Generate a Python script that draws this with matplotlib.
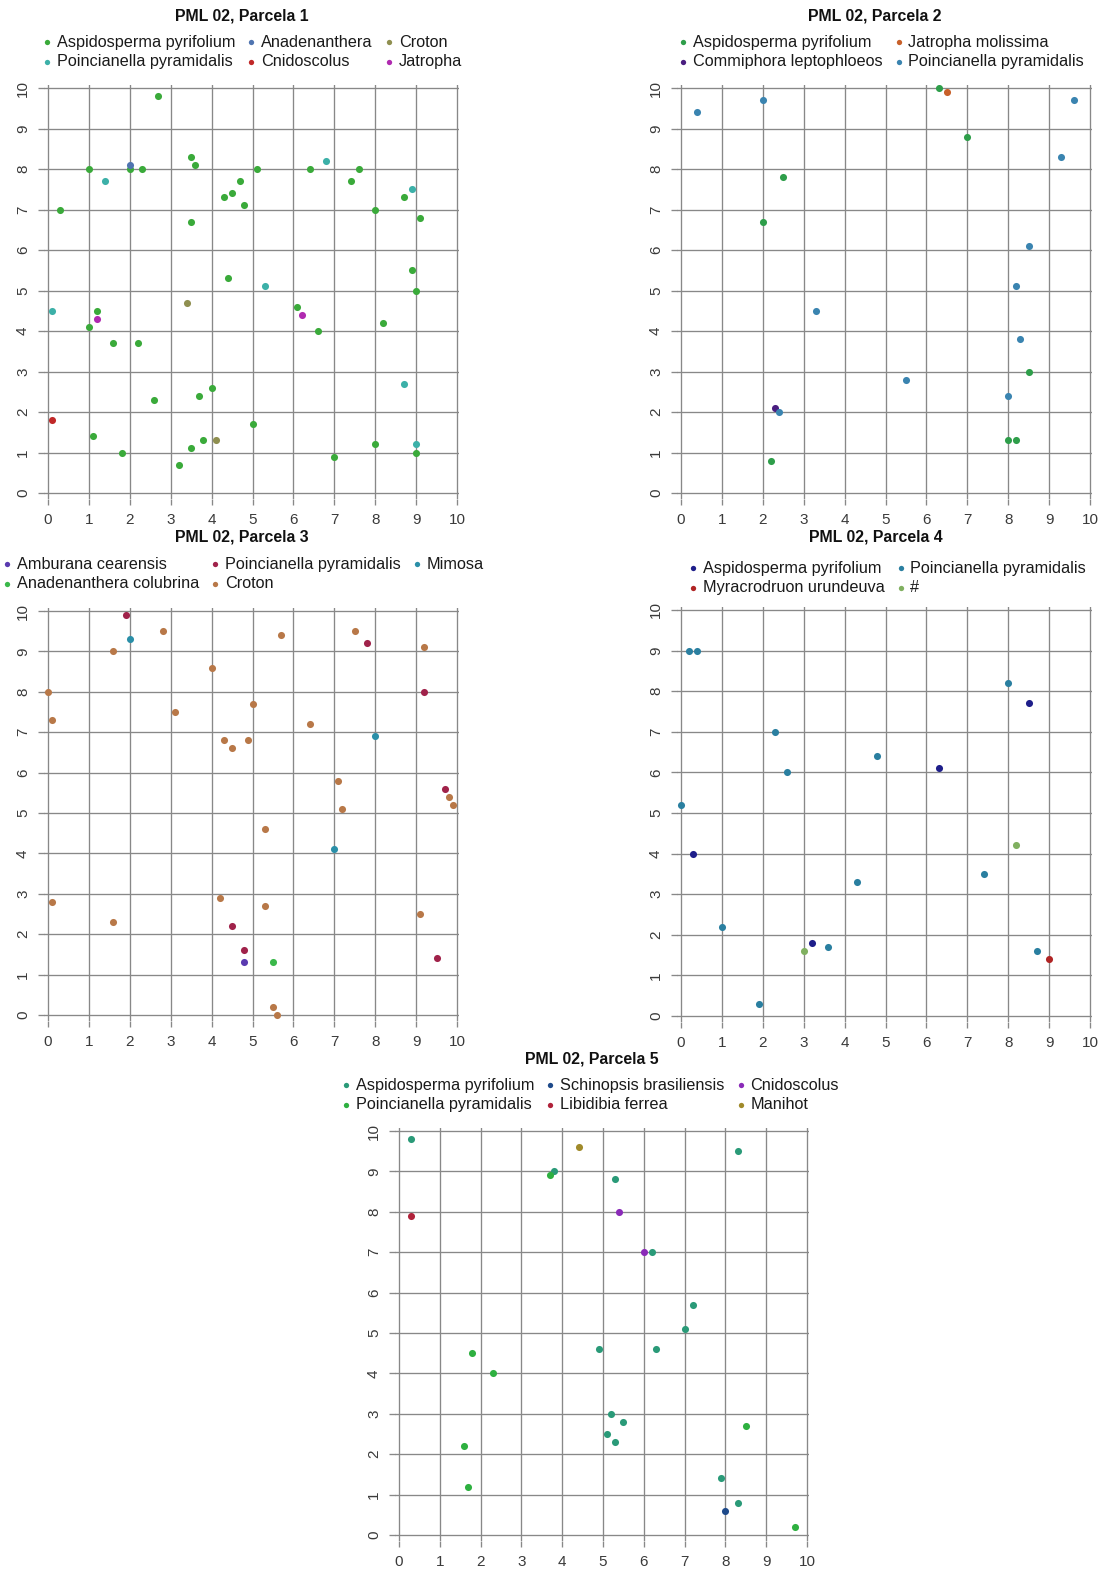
import matplotlib
matplotlib.use("Agg")
import matplotlib.pyplot as plt

plt.rcParams['font.family'] = ['Liberation Sans', 'DejaVu Sans']

W, H = 1099, 1573

# ---- Parcela 1 ----
p1_species = ["Aspidosperma pyrifolium", "Poincianella pyramidalis", "Anadenanthera",
              "Cnidoscolus", "Croton", "Jatropha"]
p1_colors = ["#3aaa3a", "#3cb0a8", "#4f74b0", "#c02828", "#8f8f50", "#b02ab0"]
p1_x = [
    [2.7, 1.0, 2.0, 2.3, 3.5, 3.6, 5.1, 6.4, 7.6, 7.4, 4.7, 4.5, 4.3, 4.8, 0.3, 8.0, 8.7, 9.1,
     3.5, 8.9, 9.0, 4.4, 6.1, 1.2, 1.0, 6.6, 8.2, 1.6, 2.2, 4.0, 3.7, 2.6, 5.0, 1.1, 3.8, 3.5,
     1.8, 3.2, 7.0, 8.0, 9.0],
    [1.4, 6.8, 8.9, 5.3, 0.1, 8.7, 9.0],
    [2.0],
    [0.1],
    [3.4, 4.1],
    [1.2, 6.2],
]
p1_y = [
    [9.8, 8.0, 8.0, 8.0, 8.3, 8.1, 8.0, 8.0, 8.0, 7.7, 7.7, 7.4, 7.3, 7.1, 7.0, 7.0, 7.3, 6.8,
     6.7, 5.5, 5.0, 5.3, 4.6, 4.5, 4.1, 4.0, 4.2, 3.7, 3.7, 2.6, 2.4, 2.3, 1.7, 1.4, 1.3, 1.1,
     1.0, 0.7, 0.9, 1.2, 1.0],
    [7.7, 8.2, 7.5, 5.1, 4.5, 2.7, 1.2],
    [8.1],
    [1.8],
    [4.7, 1.3],
    [4.3, 4.4],
]

# ---- Parcela 2 ----
p2_species = ["Aspidosperma pyrifolium", "Commiphora leptophloeos", "Jatropha molissima",
              "Poincianella pyramidalis"]
p2_colors = ["#2e9e4a", "#4a1e80", "#c8602a", "#3a84b0"]
p2_x = [
    [6.3, 7.0, 2.5, 2.0, 8.5, 8.0, 8.2, 2.2],
    [2.3],
    [6.5],
    [0.4, 2.0, 9.6, 9.3, 8.5, 8.2, 3.3, 8.3, 5.5, 8.0, 2.4],
]
p2_y = [
    [10.0, 8.8, 7.8, 6.7, 3.0, 1.3, 1.3, 0.8],
    [2.1],
    [9.9],
    [9.4, 9.7, 9.7, 8.3, 6.1, 5.1, 4.5, 3.8, 2.8, 2.4, 2.0],
]

# ---- Parcela 3 ----
p3_species = ["Amburana cearensis", "Anadenanthera colubrina", "Poincianella pyramidalis",
              "Croton", "Mimosa"]
p3_colors = ["#5a3ab0", "#3ab84a", "#a0224a", "#b87848", "#2a8fa8"]
p3_x = [
    [4.8],
    [5.5],
    [1.9, 7.8, 9.2, 9.7, 4.5, 4.8, 9.5],
    [2.8, 5.7, 7.5, 1.6, 9.2, 4.0, 0.0, 0.1, 3.1, 5.0, 6.4, 4.3, 4.5, 4.9, 7.1, 7.2, 9.8, 9.9,
     5.3, 0.1, 1.6, 4.2, 5.3, 9.1, 5.5, 5.6],
    [2.0, 8.0, 7.0],
]
p3_y = [
    [1.3],
    [1.3],
    [9.9, 9.2, 8.0, 5.6, 2.2, 1.6, 1.4],
    [9.5, 9.4, 9.5, 9.0, 9.1, 8.6, 8.0, 7.3, 7.5, 7.7, 7.2, 6.8, 6.6, 6.8, 5.8, 5.1, 5.4, 5.2,
     4.6, 2.8, 2.3, 2.9, 2.7, 2.5, 0.2, 0.0],
    [9.3, 6.9, 4.1],
]

# ---- Parcela 4 ----
p4_species = ["Aspidosperma pyrifolium", "Myracrodruon urundeuva", "Poincianella pyramidalis", "#"]
p4_colors = ["#1e1e8a", "#b02424", "#2a7fa0", "#80b060"]
p4_x = [
    [8.5, 6.3, 0.3, 3.2],
    [9.0],
    [0.2, 0.4, 8.0, 2.3, 4.8, 2.6, 0.0, 7.4, 4.3, 1.0, 3.6, 8.7, 1.9],
    [8.2, 3.0],
]
p4_y = [
    [7.7, 6.1, 4.0, 1.8],
    [1.4],
    [9.0, 9.0, 8.2, 7.0, 6.4, 6.0, 5.2, 3.5, 3.3, 2.2, 1.7, 1.6, 0.3],
    [4.2, 1.6],
]

# ---- Parcela 5 ----
p5_species = ["Aspidosperma pyrifolium", "Poincianella pyramidalis", "Schinopsis brasiliensis",
              "Libidibia ferrea", "Cnidoscolus", "Manihot"]
p5_colors = ["#2a9a78", "#2eb040", "#1e4a8a", "#b0223a", "#8a2ab8", "#a08a2a"]
p5_x = [
    [0.3, 3.8, 5.3, 8.3, 6.2, 7.2, 7.0, 4.9, 6.3, 5.2, 5.5, 5.1, 5.3, 7.9, 8.3],
    [3.7, 1.8, 2.3, 1.6, 1.7, 8.5, 9.7],
    [8.0],
    [0.3],
    [5.4, 6.0],
    [4.4],
]
p5_y = [
    [9.8, 9.0, 8.8, 9.5, 7.0, 5.7, 5.1, 4.6, 4.6, 3.0, 2.8, 2.5, 2.3, 1.4, 0.8],
    [8.9, 4.5, 4.0, 2.2, 1.2, 2.7, 0.2],
    [0.6],
    [7.9],
    [8.0, 7.0],
    [9.6],
]

ticks = list(range(0, 11))


def make_panel(fig, px0, px10, py10, py0, title, title_xy, leg_xy, ncol,
               species, colors, xs, ys):
    # axes placed from the pixel positions of the 0 and 10 gridlines
    ux = (px10 - px0) / 10.0
    uy = (py0 - py10) / 10.0
    xlo, xhi = -0.1, 10.05
    ylo, yhi = -0.15, 10.08
    left = (px0 + xlo * ux) / W
    width = (xhi - xlo) * ux / W
    bottom = 1 - (py0 - ylo * uy) / H
    height = (yhi - ylo) * uy / H
    ax = fig.add_axes([left, bottom, width, height])
    for sp, c, x, y in zip(species, colors, xs, ys):
        ax.scatter(x, y, s=26, color=c, label=sp, zorder=3, linewidths=0)
    ax.set_xlim(xlo, xhi)
    ax.set_ylim(ylo, yhi)
    ax.set_xticks(ticks)
    ax.set_yticks(ticks)
    ax.grid(True, color="#888888", linewidth=0.95)
    ax.set_axisbelow(True)
    for s in ax.spines.values():
        s.set_visible(False)
    ax.tick_params(axis="both", colors="#888888", labelcolor="#3a3a3a", labelsize=11,
                   length=4, width=0.95, pad=6)
    for lab in ax.get_yticklabels():
        lab.set_rotation(90)
        lab.set_va("center")
    fig.text(title_xy[0] / W, 1 - title_xy[1] / H, title, ha="center", va="center",
             fontsize=11.4, fontweight="bold", color="#111111")
    fig.legend(handles=ax.collections, labels=species, loc="center",
               bbox_to_anchor=(leg_xy[0] / W, 1 - leg_xy[1] / H), ncol=ncol,
               frameon=False, fontsize=11.7, markerscale=0.75, handletextpad=0.3,
               handlelength=0.6, columnspacing=0.7, labelspacing=0.28,
               borderpad=0, labelcolor="#1a1a1a")
    return ax


fig = plt.figure(figsize=(W / 100, H / 100), dpi=100)

make_panel(fig, 48, 457, 88, 493, "PML 02, Parcela 1", (242, 16), (252, 52), 3,
           p1_species, p1_colors, p1_x, p1_y)
make_panel(fig, 681, 1090, 88, 493, "PML 02, Parcela 2", (875, 16), (881, 52), 2,
           p2_species, p2_colors, p2_x, p2_y)
make_panel(fig, 48, 457, 611, 1015, "PML 02, Parcela 3", (242, 537), (243, 574), 3,
           p3_species, p3_colors, p3_x, p3_y)
make_panel(fig, 681, 1090, 610, 1016, "PML 02, Parcela 4", (876, 537), (887, 578), 2,
           p4_species, p4_colors, p4_x, p4_y)
make_panel(fig, 399, 807, 1131, 1535, "PML 02, Parcela 5", (592, 1059), (590, 1095), 3,
           p5_species, p5_colors, p5_x, p5_y)

fig.savefig("out.png", dpi=100, facecolor="white")
